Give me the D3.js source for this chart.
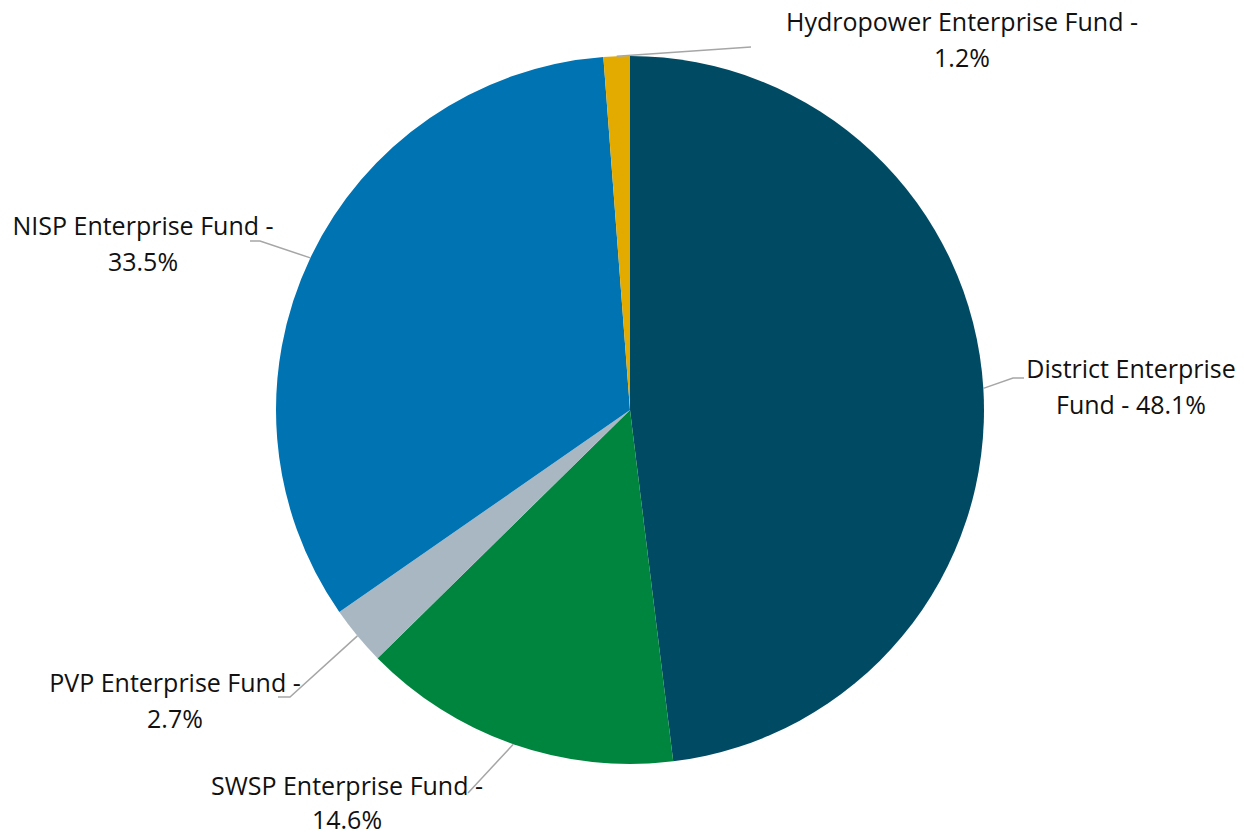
<!DOCTYPE html>
<html>
<head>
<meta charset="utf-8">
<script src="https://cdn.jsdelivr.net/npm/d3@7"></script>
<style>
  html, body { margin: 0; padding: 0; background: #fff; }
  svg { display: block; }
  text { font-family: "Open Sans", "Noto Sans", sans-serif; fill: #111; }
</style>
</head>
<body>
<svg id="chart" width="1244" height="835"></svg>
<script>
// Fund shares, clockwise from 12 o'clock
const funds = ["District Enterprise Fund", "SWSP Enterprise Fund", "PVP Enterprise Fund", "NISP Enterprise Fund", "Hydropower Enterprise Fund"];
const shares = [48.1, 14.6, 2.7, 33.5, 1.2];
const colors = ["#004B63", "#00853F", "#A9B7C2", "#0074B3", "#E3AB00"];
// Label text, one array of lines per slice
const labelLines = [
  ["District Enterprise", "Fund - 48.1%"],
  ["SWSP Enterprise Fund -", "14.6%"],
  ["PVP Enterprise Fund -", "2.7%"],
  ["NISP Enterprise Fund -", "33.5%"],
  ["Hydropower Enterprise Fund -", "1.2%"]
];

const svg = d3.select("#chart");
const cx = 630, cy = 410, R = 354;

// Label placement: text centre, first baseline, line gap, leader elbow and leader end
const layout = [
  { tx: 1131, ty: 378, gap: 36, elbow: [1013, 378], end: [1024, 378] },
  { tx: 347,  ty: 795, gap: 34, elbow: [468, 793],  end: [468, 793] },
  { tx: 175,  ty: 692, gap: 36, elbow: [290, 697],  end: [278, 697] },
  { tx: 143,  ty: 235, gap: 36, elbow: [260, 241],  end: [250, 241] },
  { tx: 962,  ty: 31,  gap: 36, elbow: [751, 47],   end: [751, 47] }
];

const pie = d3.pie().sort(null).value(d => d)(shares);
const arc = d3.arc().innerRadius(0).outerRadius(R);
const edge = d3.arc().innerRadius(R).outerRadius(R);

const g = svg.append("g").attr("transform", `translate(${cx},${cy})`);
g.selectAll("path.slice")
  .data(pie)
  .join("path")
  .attr("class", "slice")
  .attr("d", arc)
  .attr("fill", (d, i) => colors[i]);

// Leader lines from the slice edge to the label
pie.forEach((d, i) => {
  const [ex, ey] = edge.centroid(d);
  const L = layout[i];
  const pts = [[cx + ex, cy + ey], L.elbow, L.end];
  svg.append("path")
    .attr("d", d3.line()(pts))
    .attr("fill", "none")
    .attr("stroke", "#A6A6A6")
    .attr("stroke-width", 1.5);
});

// Labels
labelLines.forEach((lines, i) => {
  const L = layout[i];
  const t = svg.append("text")
    .attr("text-anchor", "middle")
    .attr("font-size", 25);
  lines.forEach((s, k) => {
    t.append("tspan").attr("x", L.tx).attr("y", L.ty + k * L.gap).text(s);
  });
});
</script>
</body>
</html>
